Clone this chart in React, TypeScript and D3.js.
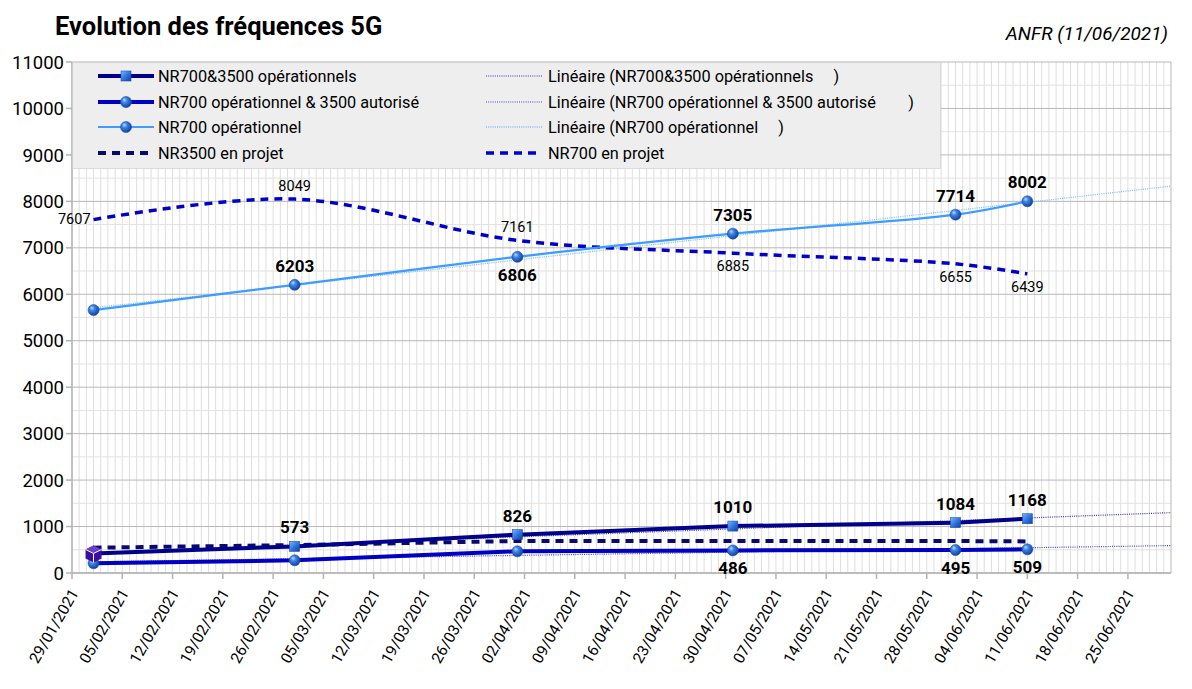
import * as d3 from 'd3';

// data points (dates of the ANFR reports)
const dates = ['2021-02-01', '2021-03-01', '2021-04-01', '2021-05-01', '2021-06-01', '2021-06-11'];
const nr700et3500Ops = [420, 573, 826, 1010, 1084, 1168];
const nr700OpsEt3500Aut = [210, 273, 467, 486, 495, 509];
const nr700Ops = [5660, 6203, 6806, 7305, 7714, 8002];
const nr3500Projet = [545, 600, 690, 690, 688, 680];
const nr700Projet = [7607, 8049, 7161, 6885, 6655, 6439];

// axis
const axisStart = '2021-01-29';
const axisEnd = '2021-07-01';
const yTicks = [0, 1000, 2000, 3000, 4000, 5000, 6000, 7000, 8000, 9000, 10000, 11000];

const title = 'Evolution des fréquences 5G';
const source = 'ANFR (11/06/2021)';

type Pos = 'above' | 'below' | 'left' | null;

const parse = d3.utcParse('%Y-%m-%d');
const fmt = d3.utcFormat('%d/%m/%Y');
const FONT = 'Roboto, "Open Sans", sans-serif';

const W = 1192;
const H = 689;
const L = 72;
const R = 1171;
const T = 62;
const B = 573;

export default function App() {
  const x0 = parse(axisStart)!;
  const x1 = parse(axisEnd)!;
  const x = d3.scaleUtc().domain([x0, x1]).range([L, R]);
  const y = d3.scaleLinear().domain([0, 11000]).range([B, T]);
  const pts = dates.map((d) => parse(d)!);

  const days = d3.utcDay.range(x0, x1);
  const weeks = d3.utcDay.range(x0, x1, 7);
  const halfK = d3.range(500, 11000, 1000);

  const lineOf = (vals: number[], curve: d3.CurveFactory = d3.curveLinear) =>
    d3
      .line<number>()
      .x((_v, i) => x(pts[i]))
      .y((v) => y(v))
      .curve(curve)(vals) ?? '';

  // linear regression trend, from first point to end of axis
  const trend = (vals: number[]) => {
    const xs = pts.map((p) => d3.utcDay.count(x0, p));
    const mx = d3.mean(xs)!;
    const my = d3.mean(vals)!;
    const sxy = d3.sum(xs, (v, i) => (v - mx) * (vals[i] - my));
    const sxx = d3.sum(xs, (v) => (v - mx) ** 2);
    const b = sxy / sxx;
    const a = my - b * mx;
    const end = d3.utcDay.count(x0, x1);
    return `M${x(pts[0])},${y(a + b * xs[0])}L${x(x1)},${y(a + b * end)}`;
  };

  const labels = (vals: number[], pos: Pos[], bold: boolean) =>
    vals.map((v, i) => {
      const p = pos[i];
      if (!p) return null;
      const px = x(pts[i]);
      const py = y(v);
      let tx = px;
      let ty = py;
      let anchor: 'middle' | 'end' = 'middle';
      if (p === 'above') ty = py - (bold ? 13 : 8);
      if (p === 'below') ty = py + (bold ? 24 : 18);
      if (p === 'left') {
        tx = px - 3;
        ty = py + 4;
        anchor = 'end';
      }
      return (
        <text
          key={i}
          x={tx}
          y={ty}
          textAnchor={anchor}
          fontSize={bold ? 17 : 14.5}
          fontWeight={bold ? 'bold' : 'normal'}
        >
          {v}
        </text>
      );
    });

  const ball = (cx: number, cy: number, k: string) => (
    <circle key={k} cx={cx} cy={cy} r={5.5} fill="url(#ball)" stroke="#1d4fb0" strokeWidth={0.6} />
  );
  const square = (cx: number, cy: number, k: string) => (
    <rect key={k} x={cx - 5} y={cy - 5} width={10} height={10} fill="url(#sq)" stroke="#1d4fb0" strokeWidth={0.6} />
  );

  const legendRows = [76, 102, 127, 153];
  const leftItems = [
    'NR700&3500 opérationnels',
    'NR700 opérationnel & 3500 autorisé',
    'NR700 opérationnel',
    'NR3500 en projet',
  ];
  const rightItems = [
    'Linéaire (NR700&3500 opérationnels     )',
    'Linéaire (NR700 opérationnel & 3500 autorisé        )',
    'Linéaire (NR700 opérationnel     )',
    'NR700 en projet',
  ];

  const smooth = d3.curveCatmullRom.alpha(0.5);

  return (
    <svg
      width={W}
      height={H}
      style={{ position: 'absolute', left: 0, top: 0, background: '#fff' }}
      fontFamily={FONT}
    >
      <defs>
        <radialGradient id="ball" cx="0.4" cy="0.4" r="0.65" fx="0.35" fy="0.3">
          <stop offset="0" stopColor="#b9dcff" />
          <stop offset="0.35" stopColor="#3d86e6" />
          <stop offset="1" stopColor="#0d3a99" />
        </radialGradient>
        <linearGradient id="sq" x1="0" y1="0" x2="1" y2="1">
          <stop offset="0" stopColor="#7fb6ff" />
          <stop offset="0.5" stopColor="#2f76de" />
          <stop offset="1" stopColor="#123f9e" />
        </linearGradient>
      </defs>

      {/* grid */}
      <g>
        {days.map((d, i) => (
          <line key={i} x1={x(d)} x2={x(d)} y1={T} y2={B} stroke="#dedede" strokeWidth={1} />
        ))}
        {halfK.map((v) => (
          <line key={v} x1={L} x2={R} y1={y(v)} y2={y(v)} stroke="#e2e2e2" strokeWidth={1} />
        ))}
        {yTicks.map((v) => (
          <line key={v} x1={L} x2={R} y1={y(v)} y2={y(v)} stroke="#b8b8b8" strokeWidth={1} />
        ))}
        <line x1={R} x2={R} y1={T} y2={B} stroke="#b8b8b8" />
      </g>

      {/* axes */}
      <g>
        <line x1={L} x2={L} y1={T} y2={B} stroke="#b3b3b3" strokeWidth={1.5} />
        <line x1={L} x2={R} y1={B} y2={B} stroke="#b3b3b3" strokeWidth={1.5} />
        {yTicks.map((v) => (
          <g key={v}>
            <line x1={L - 6} x2={L} y1={y(v)} y2={y(v)} stroke="#b3b3b3" strokeWidth={1.5} />
            <text x={64} y={y(v)} dy="0.36em" textAnchor="end" fontSize={18.5} fill="#000">
              {v}
            </text>
          </g>
        ))}
        {weeks.map((d, i) => (
          <g key={i}>
            <line x1={x(d)} x2={x(d)} y1={B} y2={B + 6} stroke="#b3b3b3" strokeWidth={1.5} />
            <text
              transform={`translate(${x(d) + 7},${B + 20}) rotate(-60)`}
              textAnchor="end"
              fontSize={15.5}
            >
              {fmt(d)}
            </text>
          </g>
        ))}
      </g>

      {/* trend lines */}
      <path d={trend(nr700Ops)} fill="none" stroke="#7dbcff" strokeWidth={1.3} strokeDasharray="1 1.2" />
      <path d={trend(nr700et3500Ops)} fill="none" stroke="#3a3aa8" strokeWidth={1.2} strokeDasharray="1 1.2" />
      <path d={trend(nr700OpsEt3500Aut)} fill="none" stroke="#4646d0" strokeWidth={1.2} strokeDasharray="1 1.2" />

      {/* series */}
      <path d={lineOf(nr3500Projet)} fill="none" stroke="#0a0a6e" strokeWidth={4} strokeDasharray="8 6" />
      <path d={lineOf(nr700Projet, smooth)} fill="none" stroke="#0000c8" strokeWidth={3.5} strokeDasharray="8 6" />
      <path d={lineOf(nr700Ops, smooth)} fill="none" stroke="#3d9cff" strokeWidth={2.2} />
      <path d={lineOf(nr700OpsEt3500Aut)} fill="none" stroke="#0000c4" strokeWidth={4} />
      <path d={lineOf(nr700et3500Ops)} fill="none" stroke="#00008c" strokeWidth={4} />

      {nr700Ops.map((v, i) => ball(x(pts[i]), y(v), `a${i}`))}
      {nr700OpsEt3500Aut.map((v, i) => ball(x(pts[i]), y(v), `b${i}`))}
      {nr700et3500Ops.map((v, i) =>
        i === 0 ? (
          <g key="cube" transform={`translate(${x(pts[i])},${y(v)})`}>
            <polygon points="0,-8 8,-4 8,5 0,9 -8,5 -8,-4" fill="#3a0d9c" />
            <polygon points="0,-8 8,-4 0,0 -8,-4" fill="#6a3fd0" />
            <path d="M0,0L0,9M0,0L-8,-4M0,0L8,-4" stroke="#fff" strokeWidth={1} fill="none" />
          </g>
        ) : (
          square(x(pts[i]), y(v), `c${i}`)
        ),
      )}

      {/* value labels */}
      <g fill="#000" fontFamily={FONT}>
        {labels(nr700Ops, [null, 'above', 'below', 'above', 'above', 'above'], true)}
        {labels(nr700et3500Ops, [null, 'above', 'above', 'above', 'above', 'above'], true)}
        {labels(nr700OpsEt3500Aut, [null, null, null, 'below', 'below', 'below'], true)}
        {labels(nr700Projet, ['left', 'above', 'above', 'below', 'below', 'below'], false)}
      </g>

      {/* legend */}
      <g>
        <rect x={L + 0.5} y={T + 0.5} width={868} height={106} fill="#eeeeee" stroke="#c4c4c4" strokeDasharray="1 1" />
        {legendRows.map((ry, i) => (
          <g key={i}>
            {i === 0 && (
              <>
                <line x1={98} x2={154} y1={ry} y2={ry} stroke="#00008c" strokeWidth={4} />
                {square(126, ry, 'l0')}
              </>
            )}
            {i === 1 && (
              <>
                <line x1={98} x2={154} y1={ry} y2={ry} stroke="#0000c4" strokeWidth={4} />
                {ball(126, ry, 'l1')}
              </>
            )}
            {i === 2 && (
              <>
                <line x1={98} x2={154} y1={ry} y2={ry} stroke="#3d9cff" strokeWidth={2.2} />
                {ball(126, ry, 'l2')}
              </>
            )}
            {i === 3 && (
              <line x1={98} x2={154} y1={ry} y2={ry} stroke="#0a0a6e" strokeWidth={4} strokeDasharray="8 6" />
            )}
            <text x={158} y={ry} dy="0.36em" fontSize={16.3} style={{ whiteSpace: 'pre' }}>
              {leftItems[i]}
            </text>
            {i === 0 && <line x1={486} x2={542} y1={ry} y2={ry} stroke="#3a3aa8" strokeWidth={1.2} strokeDasharray="1 1.2" />}
            {i === 1 && <line x1={486} x2={542} y1={ry} y2={ry} stroke="#4646d0" strokeWidth={1.2} strokeDasharray="1 1.2" />}
            {i === 2 && <line x1={486} x2={542} y1={ry} y2={ry} stroke="#7dbcff" strokeWidth={1.3} strokeDasharray="1 1.2" />}
            {i === 3 && (
              <line x1={486} x2={542} y1={ry} y2={ry} stroke="#0000c8" strokeWidth={3.5} strokeDasharray="8 6" />
            )}
            <text x={548} y={ry} dy="0.36em" fontSize={16.3} style={{ whiteSpace: 'pre' }}>
              {rightItems[i]}
            </text>
          </g>
        ))}
      </g>

      {/* titles */}
      <text x={55} y={35} fontSize={25.5} fontWeight="bold" fill="#000">
        {title}
      </text>
      <text x={1168} y={40} fontSize={19} fontStyle="italic" textAnchor="end" fill="#000">
        {source}
      </text>
    </svg>
  );
}
